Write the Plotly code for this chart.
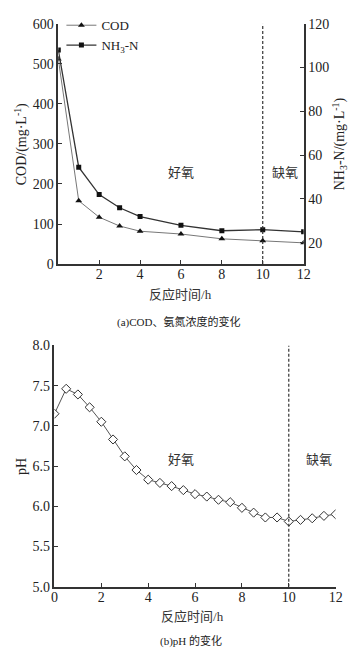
import plotly.graph_objects as go

# ---- data ----
t_a = [0, 1, 2, 3, 4, 6, 8, 10, 12]
cod = [512, 158, 117, 95, 82, 75, 63, 58, 53]
nh3n = [108, 54.5, 42, 36, 32, 28, 25.5, 26, 25]

t_b = [0, 0.5, 1, 1.5, 2, 2.5, 3, 3.5, 4, 4.5, 5, 5.5, 6, 6.5, 7, 7.5, 8,
       8.5, 9, 9.5, 10, 10.5, 11, 11.5, 12]
ph = [7.15, 7.46, 7.39, 7.23, 7.05, 6.83, 6.62, 6.45, 6.33, 6.29, 6.25, 6.20,
      6.15, 6.12, 6.08, 6.05, 5.98, 5.92, 5.86, 5.86, 5.81, 5.83, 5.85, 5.88, 5.90]

xticks_a = [2, 4, 6, 8, 10, 12]
xticks_b = [0, 2, 4, 6, 8, 10, 12]
yticks_cod = [0, 100, 200, 300, 400, 500, 600]
yticks_nh3 = [20, 40, 60, 80, 100, 120]
yticks_ph = [5.0, 5.5, 6.0, 6.5, 7.0, 7.5, 8.0]
switch_time = 10

SERIF = "Liberation Serif, Times New Roman, serif"
CJK = "Noto Sans CJK SC"
AX = "#333333"

fig = go.Figure()

fig.add_trace(go.Scatter(
    x=t_a, y=cod, name="COD", mode="lines+markers",
    line=dict(color="#777777", width=1),
    marker=dict(symbol="triangle-up", size=6, color="#111111"),
    xaxis="x", yaxis="y"))
fig.add_trace(go.Scatter(
    x=t_a, y=nh3n, name="NH<sub>3</sub>-N", mode="lines+markers",
    line=dict(color="#333333", width=1.3),
    marker=dict(symbol="square", size=5, color="#111111"),
    xaxis="x", yaxis="y2"))
fig.add_trace(go.Scatter(
    x=t_b, y=ph, name="pH", mode="lines+markers", showlegend=False,
    line=dict(color="#555555", width=1),
    marker=dict(symbol="diamond", size=7, color="white",
                line=dict(color="#333333", width=1)),
    xaxis="x2", yaxis="y3"))

common = dict(showline=True, linecolor=AX, linewidth=1.5, ticks="inside",
              ticklen=4, tickcolor=AX, tickwidth=1.2, showgrid=False,
              zeroline=False, tickfont=dict(family=SERIF, size=14, color="#222"))

fig.update_layout(
    width=359, height=667, margin=dict(l=0, r=0, t=0, b=0),
    paper_bgcolor="white", plot_bgcolor="white",
    showlegend=True,
    legend=dict(x=0.165, y=0.995, xanchor="left", yanchor="top",
                bgcolor="rgba(0,0,0,0)", font=dict(family=SERIF, size=13, color="#222"),
                tracegroupgap=0, itemwidth=30),
    xaxis=dict(domain=[0.156, 0.861], range=[0, 12], tickvals=xticks_a,
               anchor="y", ticklabelstandoff=-4, **common),
    yaxis=dict(domain=[0.6057, 0.9745], range=[0, 600], tickvals=yticks_cod,
               anchor="x", **common),
    yaxis2=dict(range=[10.3, 120], tickvals=yticks_nh3, overlaying="y",
                side="right", anchor="x", **common),
    xaxis2=dict(domain=[0.145, 0.953], range=[0, 12], tickvals=xticks_b,
                anchor="y3", tickformat="d", ticklabelstandoff=-3, **common),
    yaxis3=dict(domain=[0.111, 0.481], range=[5.0, 8.0], tickvals=yticks_ph,
                tickformat=".1f", anchor="x2", **common),
)

# dashed divider lines
fig.add_shape(type="line", xref="x", yref="y", x0=switch_time, x1=switch_time,
              y0=0, y1=600, line=dict(color="#333", width=1.2, dash="3px,2px"))
fig.add_shape(type="line", xref="x2", yref="y3", x0=switch_time, x1=switch_time,
              y0=5.0, y1=8.0, line=dict(color="#333", width=1.2, dash="3px,2px"))

ann = []
cjk_font = dict(family=CJK, size=13, color="#333")


def add(**kw):
    kw.setdefault("showarrow", False)
    kw.setdefault("xanchor", "center")
    kw.setdefault("yanchor", "middle")
    ann.append(kw)


add(xref="x", yref="y", x=6.0, y=231, text="好氧", font=cjk_font)
add(xref="x", yref="y", x=11.1, y=231, text="缺氧", font=cjk_font)
add(xref="x2", yref="y3", x=5.4, y=6.59, text="好氧", font=cjk_font)
add(xref="x2", yref="y3", x=11.3, y=6.59, text="缺氧", font=cjk_font)

# axis titles
add(xref="paper", yref="paper", x=18/359, y=1-140/667,
    text="COD/(mg·L<sup>-1</sup>)", textangle=-90,
    font=dict(family=SERIF, size=14, color="#222"))
add(xref="paper", yref="paper", x=346/359, y=1-140/667,
    text="NH<sub>3</sub>-N/(mg·L<sup>-1</sup>)", textangle=-90,
    font=dict(family=SERIF, size=14, color="#222"))
add(xref="paper", yref="paper", x=182/359, y=1-293/667,
    text="<span style='font-family:Noto Sans CJK SC'>反应时间</span>/h",
    font=dict(family=SERIF, size=13, color="#333"))
add(xref="paper", yref="paper", x=180/359, y=1-321/667,
    text="(a)COD<span style='font-family:Noto Sans CJK SC'>、氨氮浓度的变化</span>",
    font=dict(family=SERIF, size=11, color="#222"))
add(xref="paper", yref="paper", x=18/359, y=1-470/667,
    text="pH", textangle=-90,
    font=dict(family=SERIF, size=14, color="#222"))
add(xref="paper", yref="paper", x=194/359, y=1-623/667,
    text="<span style='font-family:Noto Sans CJK SC'>反应时间</span>/h",
    font=dict(family=SERIF, size=13, color="#333"))
add(xref="paper", yref="paper", x=193/359, y=1-648/667,
    text="(b)pH <span style='font-family:Noto Sans CJK SC'>的变化</span>",
    font=dict(family=SERIF, size=11, color="#222"))

fig.update_layout(annotations=ann)
fig.write_html("out.html", config={"displayModeBar": False})

# remove default body margin so the figure fills the window exactly
with open("out.html", encoding="utf-8") as f:
    html = f.read()
html = html.replace("<head>", "<head><style>html,body{margin:0;padding:0;overflow:hidden;}</style>", 1)
with open("out.html", "w", encoding="utf-8") as f:
    f.write(html)
